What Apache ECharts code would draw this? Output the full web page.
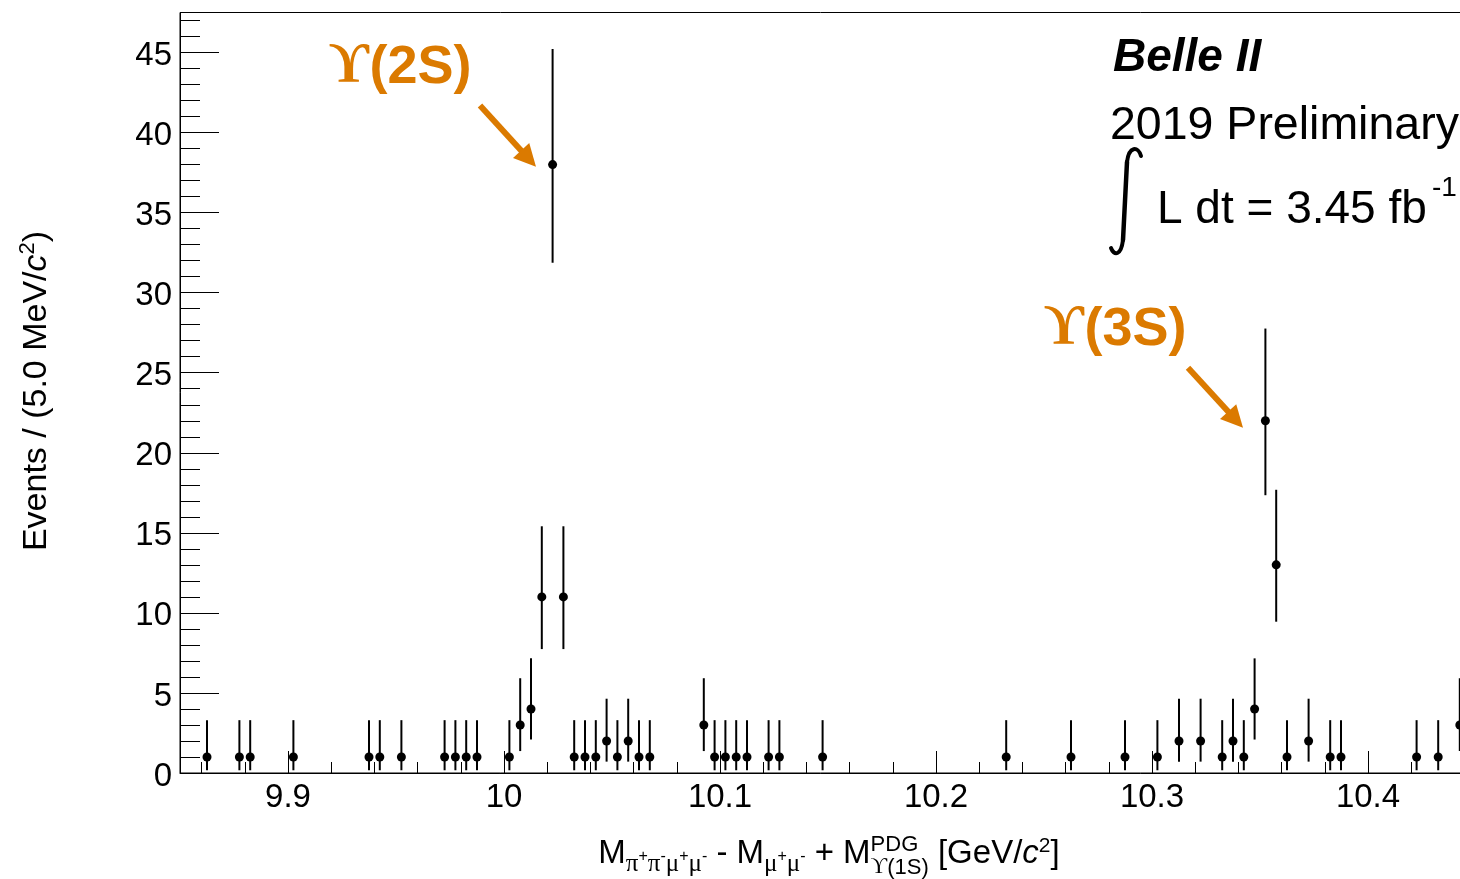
<!DOCTYPE html>
<html>
<head>
<meta charset="utf-8">
<script src="https://cdn.jsdelivr.net/npm/echarts@6/dist/echarts.min.js"></script>
<style>
  html, body { margin: 0; padding: 0; background: #fff; }
  #chart { width: 1460px; height: 879px; }
</style>
</head>
<body>
<div id="chart"></div>
<script>
// Centres (GeV/c^2) of the non-empty 5 MeV bins, and the events in each
const binCentres = [
  9.8625, 9.8775, 9.8825, 9.9025, 9.9375, 9.9425, 9.9525, 9.9725, 9.9775, 9.9825,
  9.9875, 10.0025, 10.0075, 10.0125, 10.0175, 10.0225, 10.0275, 10.0325, 10.0375, 10.0425,
  10.0475, 10.0525, 10.0575, 10.0625, 10.0675, 10.0925, 10.0975, 10.1025, 10.1075, 10.1125,
  10.1225, 10.1275, 10.1475, 10.2325, 10.2625, 10.2875, 10.3025, 10.3125, 10.3225, 10.3325,
  10.3375, 10.3425, 10.3475, 10.3525, 10.3575, 10.3625, 10.3725, 10.3825, 10.3875, 10.4225,
  10.4325, 10.4425
];
const eventCounts = [
  1, 1, 1, 1, 1, 1, 1, 1, 1, 1,
  1, 1, 3, 4, 11, 38, 11, 1, 1, 1,
  2, 1, 2, 1, 1, 3, 1, 1, 1, 1,
  1, 1, 1, 1, 1, 1, 1, 2, 2, 1,
  2, 1, 4, 22, 13, 1, 2, 1, 1, 1,
  1, 3
];

// Central 68% Poisson interval shown as the error bar, per observed count
const intervalCounts = [1, 2, 3, 4, 11, 13, 22, 38];
const intervalLow    = [0.17, 0.71, 1.37, 2.09, 7.74, 9.45, 17.35, 31.87];
const intervalHigh   = [3.30, 4.64, 5.92, 7.16, 15.41, 17.69, 27.76, 45.22];

// Axis ranges and tick marks
const xRange = [9.85, 10.45];
const yRange = [0, 47.5];
const xMajorTicks = [9.9, 10.0, 10.1, 10.2, 10.3, 10.4];
const yMajorTicks = [0, 5, 10, 15, 20, 25, 30, 35, 40, 45];

const xMinorTicks = [];
for (let k = 1; k <= 29; k++) xMinorTicks.push(+(9.85 + 0.01 + 0.02 * (k - 1)).toFixed(2));
const yMinorTicks = [];
for (let k = 1; k <= 47; k++) yMinorTicks.push(k);

const FONT = '"Liberation Sans", Arial, Helvetica, sans-serif';
const SERIF = '"Liberation Serif", "DejaVu Serif", serif';
const ORANGE = '#db7a00';

const points = binCentres.map((x, i) => {
  const n = eventCounts[i];
  const k = intervalCounts.indexOf(n);
  return [x, n, intervalLow[k], intervalHigh[k]];
});

const chart = echarts.init(document.getElementById('chart'), null, { renderer: 'canvas' });

const axisCommon = {
  type: 'value',
  splitLine: { show: false },
  minorTick: { show: false },
  minorSplitLine: { show: false }
};

chart.setOption({
  animation: false,
  backgroundColor: '#fff',
  grid: {
    left: 180, right: -16, top: 12.5, bottom: 106,
    show: true, borderColor: '#000', borderWidth: 1,
    backgroundColor: 'transparent',
    containLabel: false,
    outerBoundsMode: 'none'
  },
  xAxis: [
    Object.assign({}, axisCommon, {
      min: xRange[0], max: xRange[1], position: 'bottom',
      axisLine: { show: true, lineStyle: { color: '#000', width: 1 } },
      axisTick: { show: true, inside: true, length: 22, customValues: xMajorTicks,
                  lineStyle: { color: '#000', width: 1 } },
      axisLabel: { show: true, customValues: xMajorTicks, margin: 8,
                   fontFamily: FONT, fontSize: 33, color: '#000',
                   formatter: v => String(+(+v).toFixed(1)) }
    }),
    Object.assign({}, axisCommon, {
      min: xRange[0], max: xRange[1], position: 'bottom',
      axisLine: { show: false },
      axisTick: { show: true, inside: true, length: 11, customValues: xMinorTicks,
                  lineStyle: { color: '#000', width: 1 } },
      axisLabel: { show: false }
    })
  ],
  yAxis: [
    Object.assign({}, axisCommon, {
      min: yRange[0], max: yRange[1], position: 'left',
      axisLine: { show: true, lineStyle: { color: '#000', width: 1 } },
      axisTick: { show: true, inside: true, length: 39, customValues: yMajorTicks,
                  lineStyle: { color: '#000', width: 1 } },
      axisLabel: { show: true, customValues: yMajorTicks, margin: 8,
                   fontFamily: FONT, fontSize: 33, color: '#000',
                   formatter: v => '{t|' + v + '}',
                   rich: { t: { fontFamily: FONT, fontSize: 33, color: '#000',
                                padding: [7, 0, 0, 0] } } }
    }),
    Object.assign({}, axisCommon, {
      min: yRange[0], max: yRange[1], position: 'left',
      axisLine: { show: false },
      axisTick: { show: true, inside: true, length: 20, customValues: yMinorTicks,
                  lineStyle: { color: '#000', width: 1 } },
      axisLabel: { show: false }
    })
  ],
  series: [{
    type: 'custom',
    xAxisIndex: 0,
    yAxisIndex: 0,
    clip: false,
    data: points,
    encode: { x: 0, y: 1 },
    renderItem: (params, api) => {
      const x = api.value(0);
      const pc = api.coord([x, api.value(1)]);
      const pl = api.coord([x, api.value(2)]);
      const ph = api.coord([x, api.value(3)]);
      return {
        type: 'group',
        children: [
          { type: 'line', shape: { x1: pl[0], y1: pl[1], x2: ph[0], y2: ph[1] },
            style: { stroke: '#000', lineWidth: 2 } },
          { type: 'circle', shape: { cx: pc[0], cy: pc[1], r: 4.5 },
            style: { fill: '#000' } }
        ]
      };
    }
  }]
});

// ---- annotations ----
const toPx = (x, y) => chart.convertToPixel({ gridIndex: 0 }, [x, y]);

function arrow(tail, tip, colour) {
  const a = toPx(tail[0], tail[1]);
  const b = toPx(tip[0], tip[1]);
  const dx = b[0] - a[0], dy = b[1] - a[1];
  const len = Math.hypot(dx, dy);
  const ux = dx / len, uy = dy / len;
  const headLen = 22, headHalf = 11;
  const bx = b[0] - ux * headLen, by = b[1] - uy * headLen;
  return [
    { type: 'line', silent: true,
      shape: { x1: a[0], y1: a[1], x2: bx + ux * 2, y2: by + uy * 2 },
      style: { stroke: colour, lineWidth: 6 } },
    { type: 'polygon', silent: true,
      shape: { points: [[b[0], b[1]],
                        [bx - uy * headHalf, by + ux * headHalf],
                        [bx + uy * headHalf, by - ux * headHalf]] },
      style: { fill: colour } }
  ];
}

function label(text, x, y, opts) {
  return {
    type: 'text', silent: true, x: x, y: y,
    rotation: opts.rotation || 0,
    style: Object.assign({
      text: text, fill: opts.fill || '#000',
      fontFamily: opts.family || FONT, fontSize: opts.size,
      fontWeight: opts.weight || 'normal', fontStyle: opts.style || 'normal',
      align: opts.align || 'left', textAlign: opts.align || 'left',
      verticalAlign: 'middle', textVerticalAlign: 'middle'
    }, opts.rich ? { rich: opts.rich } : {})
  };
}

// lays a formula out piece by piece on a common baseline
const measureCtx = document.createElement('canvas').getContext('2d');
function fontOf(p) {
  return (p.it ? 'italic ' : '') + (p.bold ? 'bold ' : '') + p.s + 'px ' + (p.fam || FONT);
}
function widthOf(p) {
  measureCtx.font = fontOf(p);
  return measureCtx.measureText(p.t).width;
}
function formula(pieces, centreX, baseline) {
  const flat = [];
  let x = 0;
  for (const p of pieces) {
    if (p.stack) {
      let maxW = 0;
      for (const row of p.stack) {
        let rx = x;
        for (const q of row) { flat.push(Object.assign({ x: rx }, q)); rx += widthOf(q); }
        maxW = Math.max(maxW, rx - x);
      }
      x += maxW;
    } else {
      flat.push(Object.assign({ x: x }, p));
      x += widthOf(p);
    }
  }
  const x0 = centreX - x / 2;
  return flat.map(p => ({
    type: 'text', silent: true,
    x: x0 + p.x, y: baseline + (p.dy || 0) - 0.34 * p.s,
    style: { text: p.t, fill: '#000', fontFamily: p.fam || FONT, fontSize: p.s,
             fontStyle: p.it ? 'italic' : 'normal', fontWeight: p.bold ? 'bold' : 'normal',
             align: 'left', textAlign: 'left', verticalAlign: 'middle', textVerticalAlign: 'middle' }
  }));
}

const MAIN = 33, SUB = 25, SUBSUP = 16, SUBDY = 8, SUPDY = -3;
const subGreek = (g) => ({ t: g, s: SUB, dy: SUBDY, fam: SERIF });
const subSign = (c) => ({ t: c, s: SUBSUP, dy: SUPDY });

const xTitle = formula([
  { t: 'M', s: MAIN },
  subGreek('π'), subSign('+'), subGreek('π'), subSign('-'),
  subGreek('μ'), subSign('+'), subGreek('μ'), subSign('-'),
  { t: ' - M', s: MAIN },
  subGreek('μ'), subSign('+'), subGreek('μ'), subSign('-'),
  { t: ' + M', s: MAIN },
  { stack: [
      [{ t: 'PDG', s: 22, dy: -13 }],
      [{ t: 'ϒ', s: 23, dy: 10, fam: SERIF }, { t: '(1S)', s: 22, dy: 10 }]
  ] },
  { t: ' [GeV/', s: MAIN },
  { t: 'c', s: MAIN, it: true },
  { t: '2', s: 21, dy: -12 },
  { t: ']', s: MAIN }
], 829, 865);

// rotated y title
const Y_TITLE = 34;
const yTitle = label('{n|Events / (5.0 MeV/}{i|c}{s|2}{n|)}', 37, 391, {
  size: Y_TITLE, align: 'center', rotation: Math.PI / 2,
  rich: {
    n: { fontFamily: FONT, fontSize: Y_TITLE, lineHeight: 40, verticalAlign: 'middle', fill: '#000' },
    i: { fontFamily: FONT, fontSize: Y_TITLE, fontStyle: 'italic', lineHeight: 40, verticalAlign: 'middle', fill: '#000' },
    s: { fontFamily: FONT, fontSize: 22, lineHeight: 40, verticalAlign: 'top', fill: '#000' }
  }
});

const upsRich = {
  u: { fontFamily: SERIF, fontSize: 56, fontWeight: 'bold', fill: ORANGE, lineHeight: 60 },
  p: { fontFamily: FONT, fontSize: 54, fontWeight: 'bold', fill: ORANGE, lineHeight: 60 }
};

// integral sign drawn as two curved ends joined by a stem
const integralStroke = { stroke: '#000', fill: 'none', lineWidth: 4, lineCap: 'round' };
const integralSign = [
  { type: 'bezierCurve', silent: true,
    shape: { x1: 1141, y1: 156, cpx1: 1138, cpy1: 146, cpx2: 1129, cpy2: 146, x2: 1127, y2: 162 },
    style: integralStroke },
  { type: 'line', silent: true,
    shape: { x1: 1127, y1: 162, x2: 1123, y2: 240 },
    style: Object.assign({}, integralStroke, { lineWidth: 4.5 }) },
  { type: 'bezierCurve', silent: true,
    shape: { x1: 1123, y1: 240, cpx1: 1121, cpy1: 256, cpx2: 1114, cpy2: 256, x2: 1111, y2: 248 },
    style: integralStroke }
];

const graphics = [].concat(
  [
    label('{u|ϒ}{p|(2S)}', 329, 68, { size: 54, rich: upsRich }),
    label('{u|ϒ}{p|(3S)}', 1044, 330, { size: 54, rich: upsRich })
  ],
  arrow([9.98889, 41.69], [10.01481, 37.87], ORANGE),
  arrow([10.31667, 25.31], [10.34213, 21.56], ORANGE),
  [
    label('Belle II', 1113, 58, { size: 46, weight: 'bold', style: 'italic' }),
    label('2019 Preliminary', 1110, 126, { size: 46.5 })
  ],
  integralSign,
  [
    label('L dt = 3.45 fb', 1157, 210, { size: 46 }),
    label('-1', 1432, 188, { size: 28 }),
    yTitle
  ],
  xTitle
);

chart.setOption({ graphic: { elements: graphics } });
</script>
</body>
</html>
